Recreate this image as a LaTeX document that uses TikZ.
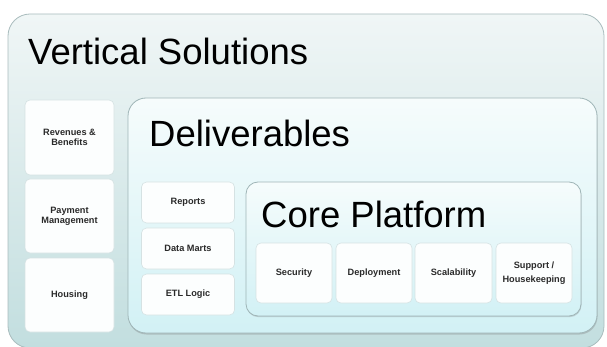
\documentclass[tikz,border=0pt]{standalone}
\usepackage{fontspec}
\setmainfont{Liberation Sans}
\usetikzlibrary{shadows}
\definecolor{outertop}{HTML}{F0F6F6}
\definecolor{outerbot}{HTML}{C2DEDF}
\definecolor{outerline}{HTML}{A9BCBD}
\definecolor{delivtop}{HTML}{F6FCFC}
\definecolor{delivbot}{HTML}{D2F1F5}
\definecolor{delivline}{HTML}{9FB5B7}
\definecolor{boxline}{HTML}{D5E2E3}
\definecolor{boxfill}{HTML}{FCFEFE}
\definecolor{labeltext}{HTML}{2A2A2A}
\tikzset{
  outerbox/.style={rectangle, rounded corners=22pt, draw=outerline, line width=0.8pt,
    top color=outertop, bottom color=outerbot, inner sep=0pt},
  delivbox/.style={rectangle, rounded corners=18pt, draw=delivline, line width=0.8pt,
    top color=delivtop, bottom color=delivbot, inner sep=0pt,
    drop shadow={shadow xshift=0.5pt, shadow yshift=-1.5pt, opacity=0.35}},
  corebox/.style={rectangle, rounded corners=12pt, draw=delivline, line width=0.8pt,
    top color=delivtop, bottom color=delivbot, inner sep=0pt,
    drop shadow={shadow xshift=0.5pt, shadow yshift=-1.2pt, opacity=0.3}},
  itembox/.style={rectangle, rounded corners=5pt, draw=boxline, line width=0.6pt,
    fill=boxfill, inner sep=0pt, align=center, text=labeltext,
    font=\fontsize{9.2}{10.3}\selectfont\bfseries},
  title/.style={anchor=base west, inner sep=0pt, text=black,
    font=\fontsize{36.5}{40}\selectfont}
}
\begin{document}
\begin{tikzpicture}[x=1pt,y=-1pt]
\useasboundingbox (0,0) rectangle (607,347);
% outer container
\node[outerbox, minimum width=596pt, minimum height=334pt] (vertical) at (306,181) {};
\node[title] (verticaltitle) at (28,65) {Vertical Solutions};
% left column
\node[itembox, minimum width=89pt, minimum height=75pt] (revenues) at (69.5,137.5) {Revenues \&\\Benefits};
\node[itembox, minimum width=89pt, minimum height=74pt] (payment) at (69.5,216) {Payment\\Management};
\node[itembox, minimum width=89pt, minimum height=74pt] (housing) at (69.5,295) {Housing};
% deliverables
\node[delivbox, minimum width=469pt, minimum height=235pt] (deliverables) at (362.5,215.5) {};
\node[title] (delivtitle) at (149,147) {Deliverables};
\node[itembox, minimum width=93pt, minimum height=41pt] (reports) at (188,202.5) {Reports};
\node[itembox, minimum width=93pt, minimum height=41pt] (datamarts) at (188,248.5) {Data Marts};
\node[itembox, minimum width=93pt, minimum height=41pt] (etl) at (188,294.5) {ETL Logic};
% core platform
\node[corebox, minimum width=335pt, minimum height=134pt] (core) at (413.5,249) {};
\node[title] (coretitle) at (261,228) {Core Platform};
\node[itembox, minimum width=76pt, minimum height=60pt] (security) at (294,273) {Security};
\node[itembox, minimum width=76pt, minimum height=60pt] (deployment) at (374,273) {Deployment};
\node[itembox, minimum width=77pt, minimum height=60pt] (scalability) at (453.5,273) {Scalability};
\node[itembox, minimum width=76pt, minimum height=60pt,
  font=\fontsize{9.2}{14.5}\selectfont\bfseries] (support) at (534,273) {Support /\\Housekeeping};
\end{tikzpicture}
\end{document}
